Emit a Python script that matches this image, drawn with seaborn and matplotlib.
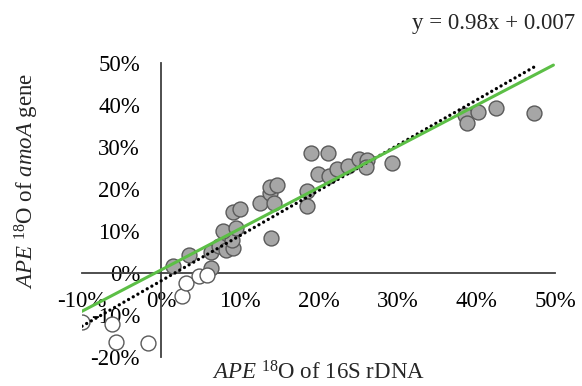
import numpy as np
import pandas as pd
import matplotlib
matplotlib.use("Agg")
import matplotlib.pyplot as plt
from matplotlib.ticker import FuncFormatter
import seaborn as sns

# APE 18O values (fractions)
filled_x = [0.015, 0.036, 0.064, 0.064, 0.074, 0.083, 0.092, 0.090, 0.079, 0.095,
            0.092, 0.101, 0.140, 0.126, 0.138, 0.139, 0.147, 0.144, 0.191, 0.212,
            0.200, 0.213, 0.223, 0.238, 0.252, 0.261, 0.260, 0.293, 0.186, 0.186,
            0.386, 0.389, 0.402, 0.425, 0.473]
filled_y = [0.017, 0.044, 0.051, 0.013, 0.065, 0.055, 0.060, 0.079, 0.101, 0.108,
            0.146, 0.153, 0.084, 0.167, 0.191, 0.205, 0.210, 0.167, 0.286, 0.286,
            0.236, 0.232, 0.248, 0.255, 0.272, 0.270, 0.253, 0.263, 0.196, 0.160,
            0.377, 0.358, 0.384, 0.393, 0.382]

open_x = [-0.100, -0.062, -0.057, -0.016, 0.027, 0.032, 0.048, 0.058]
open_y = [-0.116, -0.121, -0.164, -0.166, -0.054, -0.023, -0.006, -0.004]

# trendlines
fit_slope, fit_icpt = 0.98, 0.007
fit_x = [-0.107, 0.498]
all_slope, all_icpt = 1.076, -0.019
all_x = [-0.100, 0.473]

x_ticks = [-0.1, 0.0, 0.1, 0.2, 0.3, 0.4, 0.5]
y_ticks = [-0.2, -0.1, 0.0, 0.1, 0.2, 0.3, 0.4, 0.5]

sns.set_theme(style="white")
plt.rcParams['font.family'] = ['Liberation Serif', 'DejaVu Serif']
plt.rcParams['mathtext.fontset'] = 'custom'
plt.rcParams['mathtext.rm'] = 'Liberation Serif'
plt.rcParams['mathtext.it'] = 'Liberation Serif:italic'

fig = plt.figure(figsize=(5.82, 3.86), dpi=100)
ax = fig.add_axes([0.1409, 0.0751, 0.8127, 0.7617])

filled = pd.DataFrame({'x': filled_x, 'y': filled_y})
opened = pd.DataFrame({'x': open_x, 'y': open_y})

sns.scatterplot(data=filled, x='x', y='y', ax=ax, s=115, color='#a6a6a6',
                edgecolor='#5a5a5a', linewidth=1.0, zorder=3)
sns.scatterplot(data=opened, x='x', y='y', ax=ax, s=115, color='white',
                edgecolor='#5a5a5a', linewidth=1.0, zorder=3)

fit_line = pd.DataFrame({'x': fit_x, 'y': [fit_slope * v + fit_icpt for v in fit_x]})
all_line = pd.DataFrame({'x': all_x, 'y': [all_slope * v + all_icpt for v in all_x]})
sns.lineplot(data=all_line, x='x', y='y', ax=ax, color='black', linewidth=2.4,
             linestyle=(0, (0.01, 1.6)), dash_capstyle='round', zorder=4)
sns.lineplot(data=fit_line, x='x', y='y', ax=ax, color='#5cbf46', linewidth=2.2, zorder=5)

ax.set_xlim(-0.1, 0.5)
ax.set_ylim(-0.2, 0.5)
ax.set_xticks(x_ticks)
ax.set_yticks(y_ticks)
pct = FuncFormatter(lambda v, p: f"{v * 100:.0f}%")
ax.xaxis.set_major_formatter(pct)
ax.yaxis.set_major_formatter(pct)

for side in ['top', 'right']:
    ax.spines[side].set_visible(False)
ax.spines['left'].set_position(('data', 0))
ax.spines['bottom'].set_position(('data', 0))
for side in ['left', 'bottom']:
    ax.spines[side].set_color('#404040')
    ax.spines[side].set_linewidth(1.3)
    ax.spines[side].set_zorder(1)

ax.tick_params(axis='x', length=0, pad=13, labelsize=16.5, colors='black')
ax.tick_params(axis='y', length=0, pad=15, labelsize=16.5, colors='black')

ax.set_xlabel(r'$\it{APE}$ $^{18}$O of 16S rDNA', fontsize=16.5)
ax.xaxis.set_label_coords(0.5, -0.054)
ax.xaxis.label.set_va('center')
ax.set_ylabel(r'$\it{APE}$ $^{18}$O of $\it{amoA}$ gene', fontsize=16.5)
ax.yaxis.set_label_coords(-0.116, 0.60)
ax.yaxis.label.set_va('center')

fig.text(0.988, 0.94, 'y = 0.98x + 0.007', ha='right', va='center', fontsize=16.5)

fig.savefig('out.png', dpi=100)
